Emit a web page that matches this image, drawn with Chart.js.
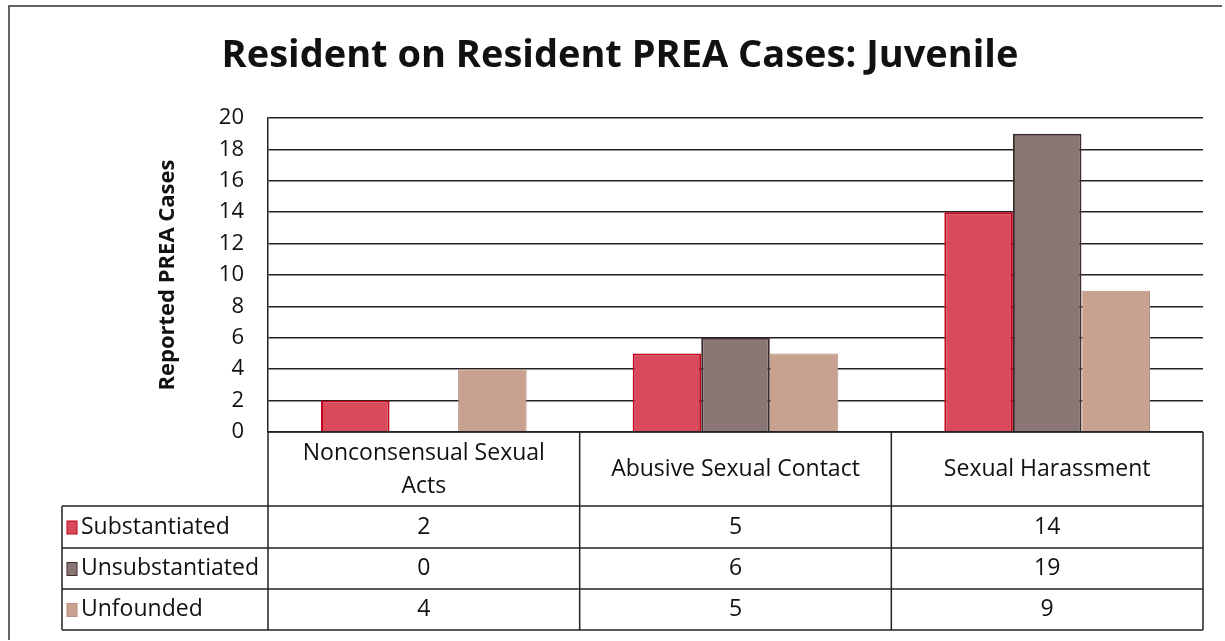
<!DOCTYPE html>
<html>
<head>
<meta charset="utf-8">
<script src="https://cdn.jsdelivr.net/npm/chart.js@4/dist/chart.umd.min.js"></script>
<style>
  html, body { margin: 0; padding: 0; background: #fff; }
  #wrap { width: 1225px; height: 641px; position: relative; }
</style>
</head>
<body>
<div id="wrap"><canvas id="chart" width="1225" height="641"></canvas></div>
<script>
// Data
const categories = [['Nonconsensual Sexual', 'Acts'], 'Abusive Sexual Contact', 'Sexual Harassment'];
const seriesNames = ['Substantiated', 'Unsubstantiated', 'Unfounded'];
const substantiated = [2, 5, 14];
const unsubstantiated = [0, 6, 19];
const unfounded = [4, 5, 9];
const yTicks = [0, 2, 4, 6, 8, 10, 12, 14, 16, 18, 20];

const FILL = ['#d84a5c', '#8a7674', '#c9a190'];
const EDGE = ['#c0001c', '#3e2c2c', '#b48e7e'];
const FONT = '"Open Sans", "Noto Sans", sans-serif';
const INK = '#111';

// Data table drawn under the plot, aligned with the category columns
const dataTable = {
    id: 'dataTable',
    afterDraw(chart) {
        const { ctx, chartArea, scales } = chart;
        const x = scales.x;
        const top = chartArea.bottom;
        const rows = [506, 548, 589, 630];
        const left = 62;
        const right = chartArea.right;
        const half = (x.getPixelForValue(1) - x.getPixelForValue(0)) / 2;
        const edges = [chartArea.left];
        categories.forEach((c, i) => edges.push(x.getPixelForValue(i) + half));

        ctx.save();
        ctx.strokeStyle = '#222';
        ctx.lineWidth = 1.5;
        ctx.beginPath();
        ctx.moveTo(chartArea.left, top); ctx.lineTo(right, top);
        rows.forEach(y => { ctx.moveTo(left, y); ctx.lineTo(right, y); });
        edges.forEach(ex => { ctx.moveTo(ex, top); ctx.lineTo(ex, rows[3]); });
        ctx.moveTo(left, rows[0]); ctx.lineTo(left, rows[3]);
        ctx.stroke();

        ctx.fillStyle = INK;
        ctx.textAlign = 'center';
        ctx.textBaseline = 'middle';
        ctx.font = '23px ' + FONT;
        categories.forEach((c, i) => {
            const cx = x.getPixelForValue(i);
            if (Array.isArray(c)) {
                ctx.fillText(c[0], cx, 453);
                ctx.fillText(c[1], cx, 486);
            } else {
                ctx.fillText(c, cx, 469);
            }
        });

        const values = [substantiated, unsubstantiated, unfounded];
        values.forEach((vals, r) => {
            const cy = (rows[r] + rows[r + 1]) / 2;
            vals.forEach((v, i) => ctx.fillText(String(v), x.getPixelForValue(i), cy));
            ctx.fillStyle = FILL[r];
            ctx.fillRect(67, cy - 6, 10, 13);
            ctx.strokeStyle = EDGE[r];
            ctx.lineWidth = 1;
            ctx.strokeRect(67, cy - 6, 10, 13);
            ctx.fillStyle = INK;
            ctx.textAlign = 'left';
            ctx.fillText(seriesNames[r], 81, cy);
            ctx.textAlign = 'center';
        });

        // outer frame (left and top edges visible in the scan)
        ctx.strokeStyle = '#333';
        ctx.lineWidth = 1.5;
        ctx.beginPath();
        ctx.moveTo(9, 640); ctx.lineTo(9, 6); ctx.lineTo(1222, 6);
        ctx.stroke();
        ctx.restore();
    }
};

new Chart(document.getElementById('chart').getContext('2d'), {
    type: 'bar',
    data: {
        labels: categories,
        datasets: [
            { label: seriesNames[0], data: substantiated, backgroundColor: FILL[0], borderColor: EDGE[0], borderWidth: 2 },
            { label: seriesNames[1], data: unsubstantiated, backgroundColor: FILL[1], borderColor: EDGE[1], borderWidth: 2 },
            { label: seriesNames[2], data: unfounded, backgroundColor: FILL[2], borderColor: EDGE[2], borderWidth: 1 }
        ]
    },
    options: {
        responsive: false,
        animation: false,
        layout: { padding: { left: 37, right: 22, top: 0, bottom: 209 } },
        datasets: { bar: { categoryPercentage: 0.66, barPercentage: 1 } },
        plugins: {
            legend: { display: false },
            tooltip: { enabled: false },
            title: {
                display: true,
                text: 'Resident on Resident PREA Cases: Juvenile',
                color: INK,
                font: { family: FONT, size: 38, weight: 'bold', lineHeight: 1.2 },
                padding: { top: 33, bottom: 39.4 }
            }
        },
        scales: {
            x: { display: false },
            y: {
                min: 0,
                max: 20,
                afterBuildTicks: s => { s.ticks = yTicks.map(v => ({ value: v })); },
                afterFit: s => { s.width = 231; },
                ticks: { color: INK, padding: 24, font: { family: FONT, size: 22 } },
                grid: { color: '#222', lineWidth: 1.5, drawTicks: false },
                border: { display: true, color: '#222', width: 1.5 },
                title: {
                    display: true,
                    text: 'Reported PREA Cases',
                    color: INK,
                    font: { family: FONT, size: 22, weight: 'bold', lineHeight: 1.2 },
                    padding: { top: 118, bottom: 0 }
                }
            }
        }
    },
    plugins: [dataTable]
});
</script>
</body>
</html>
